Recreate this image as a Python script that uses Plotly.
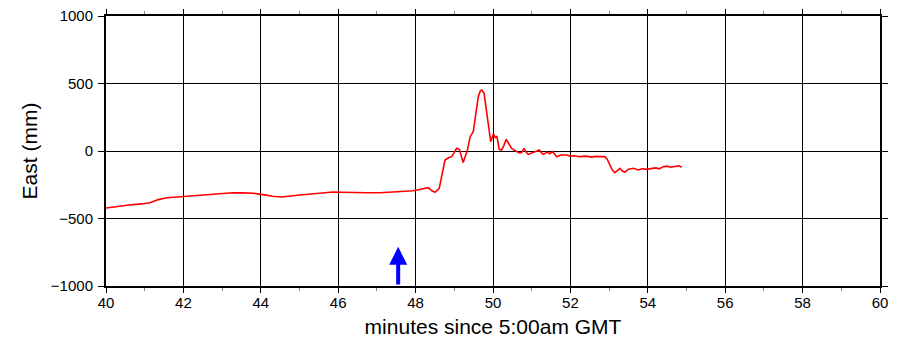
import plotly.graph_objects as go

minutes = [40.00, 40.30, 40.60, 40.90, 41.14, 41.35, 41.57, 41.75, 41.99, 42.30, 42.60, 42.90,
           43.28, 43.55, 43.80, 44.10, 44.30, 44.54, 44.75, 45.01, 45.30, 45.60, 45.87, 46.10,
           46.40, 46.74, 47.08, 47.35, 47.60, 47.94, 48.10, 48.33, 48.42, 48.50, 48.61, 48.67,
           48.72, 48.76, 48.85, 48.93, 49.00, 49.06, 49.13, 49.18, 49.23, 49.34, 49.41, 49.49,
           49.55, 49.62, 49.67, 49.71, 49.77, 49.84, 49.88, 49.94, 50.01, 50.06, 50.10, 50.16,
           50.22, 50.28, 50.34, 50.40, 50.48, 50.55, 50.61, 50.68, 50.74, 50.80, 50.86, 50.91,
           51.00, 51.10, 51.20, 51.25, 51.30, 51.40, 51.47, 51.54, 51.65, 51.75, 51.90, 52.00,
           52.10, 52.25, 52.40, 52.55, 52.65, 52.76, 52.89, 52.95, 53.02, 53.08, 53.15, 53.22,
           53.28, 53.35, 53.41, 53.50, 53.63, 53.75, 53.85, 53.97, 54.10, 54.20, 54.30, 54.40,
           54.50, 54.60, 54.70, 54.80, 54.88]
east_mm = [-422, -410, -400, -392, -383, -360, -346, -343, -338, -332, -328, -320,
           -309, -310, -313, -325, -335, -341, -333, -326, -318, -310, -304, -305,
           -308, -309, -309, -305, -301, -294, -285, -272, -295, -306, -277, -202,
           -120, -67, -50, -42, -10, 20, 12, -40, -86, 7, 106, 143,
           250, 402, 445, 452, 427, 279, 180, 69, 126, 100, 111, 12,
           7, 40, 87, 57, 20, 5, -5, -15, -12, 20, -10, -25,
           -15, -5, 7, -15, -25, -8, -20, -5, -42, -30, -30, -38,
           -35, -42, -38, -45, -40, -42, -42, -60, -111, -140, -160, -140,
           -128, -150, -156, -135, -128, -140, -132, -136, -130, -125, -132, -116,
           -112, -120, -115, -110, -121]

arrow_x = 47.55
arrow_tip = -710
y_min, y_max = -1000, 1000
x_min, x_max = 40, 60

fig = go.Figure()
fig.add_trace(go.Scatter(x=minutes, y=east_mm, mode="lines",
                         line=dict(color="#ff0000", width=1.6), hoverinfo="skip"))

fig.add_annotation(x=arrow_x, y=arrow_tip, ax=arrow_x, ay=y_min,
                   xref="x", yref="y", axref="x", ayref="y",
                   showarrow=True, arrowhead=2, arrowsize=0.9, arrowwidth=4,
                   arrowcolor="#0000ff", text="", standoff=0, startstandoff=0)

font_family = "Liberation Sans, Arial, sans-serif"
# page body adds an 8px offset, so the figure is sized 890x334
fig.update_layout(
    width=890, height=334,
    margin=dict(l=98, r=18, t=8, b=56),
    paper_bgcolor="white", plot_bgcolor="white",
    showlegend=False,
    font=dict(family=font_family, color="black", size=15),
)
fig.update_xaxes(
    range=[x_min, x_max], tickmode="linear", tick0=40, dtick=2,
    automargin=False, ticklabeloverflow="allow",
    showgrid=True, gridcolor="black", gridwidth=1.3,
    showline=True, linecolor="black", linewidth=2, mirror="ticks",
    ticks="outside", ticklen=5, tickwidth=1.2, tickcolor="black",
    ticklabelstandoff=-3,
    minor=dict(dtick=1, ticks="outside", ticklen=3, tickcolor="#888888", showgrid=False),
    zeroline=False,
    title=dict(text="minutes since 5:00am GMT", font=dict(size=21), standoff=9),
    tickfont=dict(size=15),
)
fig.update_yaxes(
    range=[y_min, y_max], tickmode="linear", tick0=-1000, dtick=500,
    automargin=False, ticklabeloverflow="allow",
    showgrid=True, gridcolor="black", gridwidth=1.3,
    showline=True, linecolor="black", linewidth=2, mirror="ticks",
    ticks="outside", ticklen=6, tickwidth=1.2, tickcolor="black",
    ticklabelstandoff=2,
    zeroline=False,
    title=dict(text="East (mm)", font=dict(size=21), standoff=8),
    tickfont=dict(size=15),
)

fig.write_html("out.html")
